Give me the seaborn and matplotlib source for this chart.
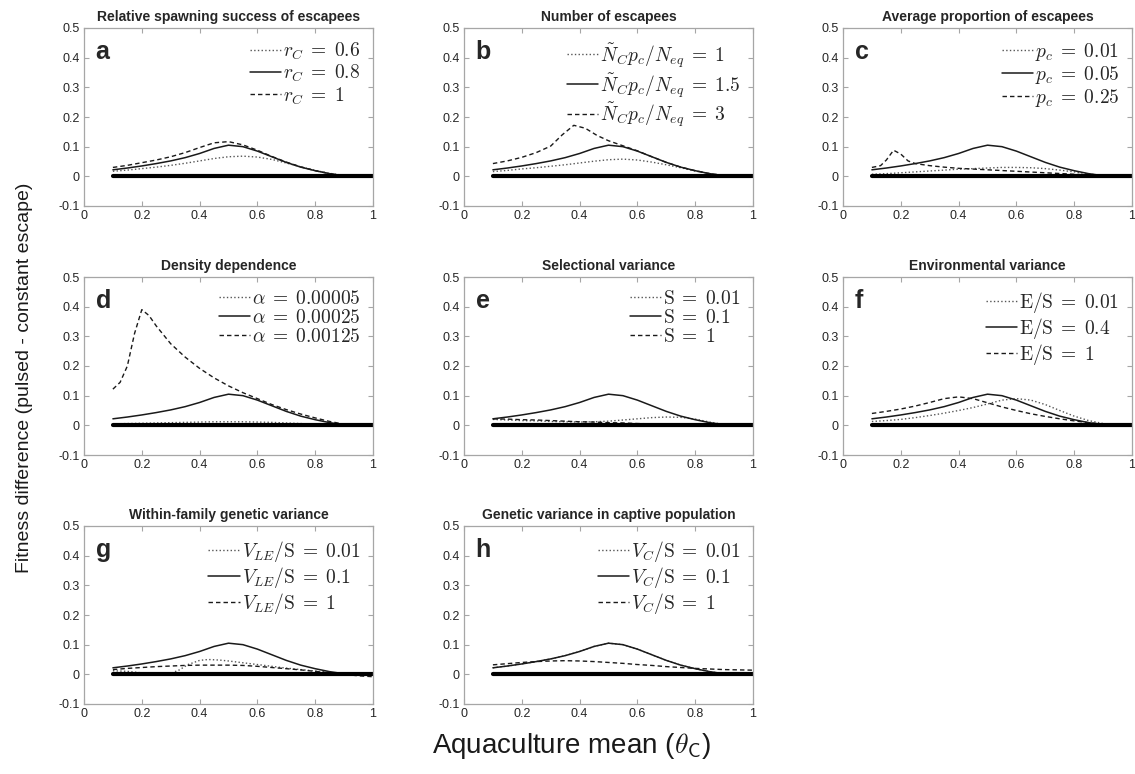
import numpy as np
import pandas as pd
import matplotlib
matplotlib.use("Agg")
import matplotlib.pyplot as plt
import seaborn as sns

sns.set_style("ticks")
plt.rcParams['font.family'] = ['Liberation Sans', 'DejaVu Sans']
plt.rcParams['mathtext.fontset'] = 'cm'

# ---------------- data ----------------
X = [0.10, 0.15, 0.20, 0.25, 0.30, 0.35, 0.40, 0.45, 0.50, 0.55,
     0.60, 0.65, 0.70, 0.75, 0.80, 0.85, 0.90, 0.95, 1.00]
ref = [0.022, 0.028, 0.035, 0.043, 0.052, 0.063, 0.077, 0.094, 0.105, 0.100,
       0.085, 0.066, 0.047, 0.031, 0.019, 0.009, 0.002, 0.0, 0.0]

baseline_x = [0.1, 1.0]
baseline_y = [0.0, 0.0]

# a
a_dot = [0.017, 0.021, 0.026, 0.031, 0.037, 0.044, 0.052, 0.060, 0.066, 0.068,
         0.065, 0.057, 0.045, 0.032, 0.020, 0.010, 0.003, 0.0, 0.0]
a_dash = [0.030, 0.037, 0.046, 0.055, 0.066, 0.080, 0.097, 0.113, 0.117, 0.106,
          0.088, 0.067, 0.048, 0.032, 0.019, 0.009, 0.002, 0.0, 0.0]
# b
b_dot = [0.016, 0.020, 0.025, 0.029, 0.034, 0.039, 0.045, 0.051, 0.056, 0.058,
         0.055, 0.048, 0.039, 0.029, 0.018, 0.009, 0.003, 0.0, 0.0]
b_dash_x = [0.10, 0.15, 0.20, 0.25, 0.30, 0.34, 0.38, 0.42, 0.46, 0.50,
            0.55, 0.60, 0.65, 0.70, 0.75, 0.80, 0.85, 0.90, 0.95, 1.00]
b_dash = [0.043, 0.052, 0.064, 0.080, 0.102, 0.140, 0.172, 0.162, 0.138, 0.120,
          0.103, 0.086, 0.066, 0.047, 0.031, 0.019, 0.009, 0.002, 0.0, 0.0]
# c
c_dot = [0.007, 0.009, 0.012, 0.015, 0.018, 0.021, 0.024, 0.026, 0.028, 0.030,
         0.030, 0.029, 0.026, 0.021, 0.015, 0.008, 0.003, 0.0, 0.0]
c_dash_x = [0.10, 0.13, 0.15, 0.175, 0.20, 0.225, 0.25, 0.30, 0.35, 0.40,
            0.50, 0.60, 0.70, 0.80, 0.90, 1.00]
c_dash = [0.030, 0.036, 0.055, 0.088, 0.075, 0.052, 0.043, 0.036, 0.031, 0.027,
          0.022, 0.017, 0.012, 0.007, 0.002, 0.0]
# d
d_dot = [0.005, 0.006, 0.007, 0.008, 0.009, 0.010, 0.011, 0.012, 0.012, 0.012,
         0.011, 0.010, 0.008, 0.006, 0.004, 0.002, 0.0005, 0.0, 0.0]
d_dash_x = [0.10, 0.125, 0.15, 0.175, 0.20, 0.225, 0.25, 0.30, 0.35, 0.40, 0.45,
            0.50, 0.55, 0.60, 0.65, 0.70, 0.75, 0.80, 0.85, 0.90, 0.95, 1.00]
d_dash = [0.122, 0.145, 0.200, 0.310, 0.390, 0.370, 0.335, 0.275, 0.230, 0.192, 0.160,
          0.133, 0.110, 0.090, 0.070, 0.053, 0.038, 0.025, 0.013, 0.004, 0.0, 0.0]
# e
e_dot = [0.020, 0.018, 0.016, 0.015, 0.013, 0.012, 0.011, 0.012, 0.014, 0.018,
         0.022, 0.026, 0.028, 0.027, 0.021, 0.011, 0.003, 0.0, 0.0]
e_dash = [0.022, 0.021, 0.019, 0.018, 0.016, 0.014, 0.012, 0.011, 0.009, 0.008,
          0.006, 0.005, 0.004, 0.003, 0.002, 0.001, 0.0005, 0.0, 0.0]
# f
f_dot = [0.013, 0.016, 0.020, 0.026, 0.033, 0.041, 0.050, 0.060, 0.072, 0.085,
         0.090, 0.085, 0.070, 0.050, 0.031, 0.016, 0.006, 0.001, 0.0]
f_dash = [0.040, 0.047, 0.055, 0.065, 0.077, 0.090, 0.096, 0.090, 0.076, 0.062,
          0.050, 0.039, 0.030, 0.022, 0.015, 0.009, 0.004, 0.001, 0.0]
# g
g_dot_x = [0.10, 0.15, 0.20, 0.25, 0.30, 0.33, 0.36, 0.40, 0.43, 0.47, 0.50,
           0.55, 0.60, 0.65, 0.70, 0.75, 0.80, 0.85, 0.90, 0.95, 1.00]
g_dot = [0.012, 0.010, 0.005, 0.002, 0.003, 0.015, 0.033, 0.047, 0.050, 0.048, 0.045,
         0.039, 0.033, 0.027, 0.021, 0.016, 0.011, 0.006, 0.001, -0.003, -0.004]
g_dash = [0.016, 0.020, 0.023, 0.026, 0.028, 0.030, 0.031, 0.031, 0.031, 0.030,
          0.027, 0.023, 0.019, 0.015, 0.010, 0.005, 0.000, -0.005, -0.008]
# h
h_dot = [0.022, 0.028, 0.035, 0.043, 0.052, 0.063, 0.077, 0.094, 0.105, 0.100,
         0.085, 0.066, 0.047, 0.031, 0.019, 0.009, 0.002, 0.0, 0.0]
h_dash = [0.032, 0.036, 0.040, 0.043, 0.045, 0.046, 0.045, 0.043, 0.040, 0.037,
          0.033, 0.030, 0.026, 0.023, 0.020, 0.018, 0.016, 0.015, 0.014]

titles = ["Relative spawning success of escapees", "Number of escapees",
          "Average proportion of escapees", "Density dependence",
          "Selectional variance", "Environmental variance",
          "Within-family genetic variance", "Genetic variance in captive population"]
letters = ["a", "b", "c", "d", "e", "f", "g", "h"]
legend_labels = [
    [r"$r_C\;=\;0.6$", r"$r_C\;=\;0.8$", r"$r_C\;=\;1$"],
    [r"$\tilde{N}_C p_c/N_{eq}\;=\;1$", r"$\tilde{N}_C p_c/N_{eq}\;=\;1.5$", r"$\tilde{N}_C p_c/N_{eq}\;=\;3$"],
    [r"$p_c\;=\;0.01$", r"$p_c\;=\;0.05$", r"$p_c\;=\;0.25$"],
    [r"$\alpha\;=\;0.00005$", r"$\alpha\;=\;0.00025$", r"$\alpha\;=\;0.00125$"],
    [r"$\mathrm{S}\;=\;0.01$", r"$\mathrm{S}\;=\;0.1$", r"$\mathrm{S}\;=\;1$"],
    [r"$\mathrm{E/S}\;=\;0.01$", r"$\mathrm{E/S}\;=\;0.4$", r"$\mathrm{E/S}\;=\;1$"],
    [r"$V_{LE}/\mathrm{S}\;=\;0.01$", r"$V_{LE}/\mathrm{S}\;=\;0.1$", r"$V_{LE}/\mathrm{S}\;=\;1$"],
    [r"$V_C/\mathrm{S}\;=\;0.01$", r"$V_C/\mathrm{S}\;=\;0.1$", r"$V_C/\mathrm{S}\;=\;1$"],
]
panels = [
    ((X, a_dot), (X, ref), (X, a_dash)),
    ((X, b_dot), (X, ref), (b_dash_x, b_dash)),
    ((X, c_dot), (X, ref), (c_dash_x, c_dash)),
    ((X, d_dot), (X, ref), (d_dash_x, d_dash)),
    ((X, e_dot), (X, ref), (X, e_dash)),
    ((X, f_dot), (X, ref), (X, f_dash)),
    ((g_dot_x, g_dot), (X, ref), (X, g_dash)),
    ((X, h_dot), (X, ref), (X, h_dash)),
]

# ---------------- figure ----------------
W, H = 1135, 774
fig = plt.figure(figsize=(W / 100, H / 100), dpi=100)
lefts = [84, 464, 843]
tops = [28, 277, 526]
aw, ah = 289, 178

styles = [dict(linestyle=':', linewidth=1.0, color='#555555'),
          dict(linestyle='-', linewidth=1.1, color='#1a1a1a'),
          dict(linestyle=(0, (3.2, 2.2)), linewidth=1.0, color='#1a1a1a')]

spine_col = '#a6a6a6'
tick_lab_col = '#262626'

for i in range(8):
    r, c = divmod(i, 3)
    ax = fig.add_axes([lefts[c] / W, 1 - (tops[r] + ah) / H, aw / W, ah / H])
    for (xs, ys), st, lab in zip(panels[i], styles, legend_labels[i]):
        sns.lineplot(x=xs, y=ys, ax=ax, estimator=None, label=lab, **st)
    sns.lineplot(x=baseline_x, y=baseline_y, ax=ax, estimator=None,
                 color='black', linewidth=3.0)
    ax.set_xlim(0, 1)
    ax.set_ylim(-0.1, 0.5)
    ax.set_xticks([0, 0.2, 0.4, 0.6, 0.8, 1])
    ax.set_xticklabels(["0", "0.2", "0.4", "0.6", "0.8", "1"])
    ax.set_yticks([-0.1, 0, 0.1, 0.2, 0.3, 0.4, 0.5])
    ax.set_yticklabels(["-0.1", "0", "0.1", "0.2", "0.3", "0.4", "0.5"])
    ax.tick_params(direction='in', top=True, right=True, length=3.5, width=0.8,
                   color=spine_col, labelsize=9, labelcolor=tick_lab_col, pad=3)
    for sp in ax.spines.values():
        sp.set_color(spine_col)
        sp.set_linewidth(0.9)
    ax.set_xlabel("")
    ax.set_ylabel("")
    ax.set_title(titles[i], fontsize=10, fontweight='bold', pad=5)
    ax.text(0.04, 0.93, letters[i], transform=ax.transAxes, fontsize=18,
            fontweight='bold', va='top', ha='left')
    handles, labs = ax.get_legend_handles_labels()
    ax.legend(handles[:3], labs[:3], loc='upper right', frameon=False,
              fontsize=14, handlelength=1.6, handletextpad=0.1,
              labelspacing=0.05, borderaxespad=0.3, borderpad=0.35)

fig.text(25 / W, 1 - 378 / H, "Fitness difference (pulsed - constant escape)",
         rotation=90, fontsize=14, va='center', ha='center', color='#1a1a1a')
fig.text(572 / W, 1 - 746 / H, r"Aquaculture mean ($\theta_{\mathsf{C}}$)",
         fontsize=20, va='center', ha='center', color='#1a1a1a')

fig.savefig("out.png", dpi=100)
